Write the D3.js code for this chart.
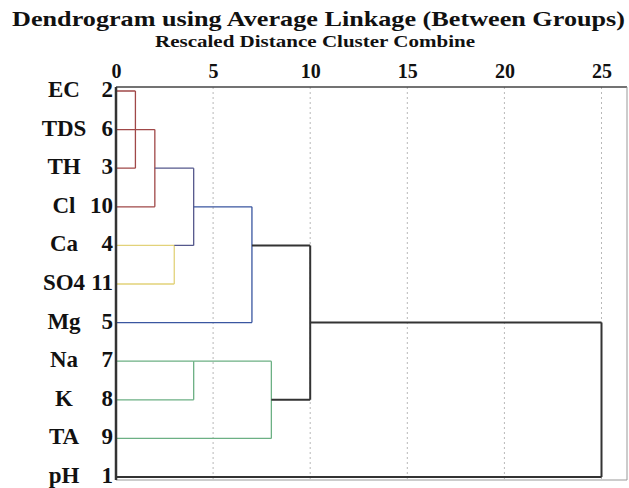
<!DOCTYPE html>
<html>
<head>
<meta charset="utf-8">
<script src="https://cdn.jsdelivr.net/npm/d3@7"></script>
<style>
  body { margin: 0; background: #fff; }
  text { font-family: "Liberation Serif", "Times New Roman", serif; font-weight: bold; fill: #111; }
</style>
</head>
<body>
<div id="chart"></div>
<script>
// variables listed top to bottom as in the dendrogram
var labels = ["EC", "TDS", "TH", "Cl", "Ca", "SO4", "Mg", "Na", "K", "TA", "pH"]
var caseNums = [2, 6, 3, 10, 4, 11, 5, 7, 8, 9, 1]

// merges: ids below 11 are leaves, 11+k is merge k
var mergeLeft = [0, 11, 12, 4, 13, 15, 7, 17, 16, 19]
var mergeRight = [2, 1, 3, 5, 14, 6, 8, 9, 18, 10]
var mergeDist = [1, 2, 2, 3, 4, 7, 4, 8, 10, 25]
var mergeRow = [1, 1, 2, 4, 3, 4, 7, 8, 6, 8]   // row the joined cluster hangs from
var mergeGroup = ["g1", "g1", "g1", "g2", "g3", "g4", "g5", "g5", "g6", "g6"]

var distTicks = [0, 5, 10, 15, 20, 25]

var width = 629, height = 488
var svg = d3.select("#chart").append("svg")
    .attr("width", width)
    .attr("height", height)

var x = d3.scaleLinear().domain([0, 25]).range([116, 601.5])
var y = d3.scaleLinear().domain([0, 10]).range([91, 477])
var color = d3.scaleOrdinal()
    .domain(["g1", "g2", "g3", "g4", "g5", "g6"])
    .range(["#a04848", "#e2d27a", "#55588c", "#3a56a0", "#6cb084", "#333333"])

var frameTop = 87, frameBottom = 480, frameRight = 627

// title
svg.append("text")
    .attr("x", 318.5).attr("y", 26)
    .attr("text-anchor", "middle")
    .attr("textLength", 613).attr("lengthAdjust", "spacingAndGlyphs")
    .style("font-size", "22px")
    .text("Dendrogram using Average Linkage (Between Groups)")

svg.append("text")
    .attr("x", 315).attr("y", 47)
    .attr("text-anchor", "middle")
    .attr("textLength", 320).attr("lengthAdjust", "spacingAndGlyphs")
    .style("font-size", "16px")
    .text("Rescaled Distance Cluster Combine")

// grid
svg.append("g").selectAll("line")
    .data(distTicks.filter(d => d > 0))
    .enter().append("line")
    .attr("x1", d => x(d)).attr("x2", d => x(d))
    .attr("y1", frameTop).attr("y2", frameBottom)
    .attr("stroke", "#b8b8b8")
    .attr("stroke-width", 1)
    .attr("stroke-dasharray", "2,3")

// frame
svg.append("line").attr("x1", x(0)).attr("x2", frameRight).attr("y1", frameTop).attr("y2", frameTop)
    .attr("stroke", "#444").attr("stroke-width", 1.5)
svg.append("line").attr("x1", frameRight).attr("x2", frameRight).attr("y1", frameTop).attr("y2", frameBottom)
    .attr("stroke", "#999").attr("stroke-width", 1)
svg.append("line").attr("x1", x(0)).attr("x2", frameRight).attr("y1", frameBottom).attr("y2", frameBottom)
    .attr("stroke", "#999").attr("stroke-width", 1)

// top axis
var axis = svg.append("g")
    .attr("transform", `translate(0,${frameTop - 9})`)
    .call(d3.axisTop(x).tickValues(distTicks).tickSize(0).tickPadding(0))
axis.select(".domain").remove()
axis.selectAll("text")
    .attr("fill", "#111")
    .style("font-family", "'Liberation Serif', serif")
    .style("font-weight", "bold")
    .style("font-size", "20px")
    .attr("dy", 0)

// node positions
var nodeX = [], nodeY = []
labels.forEach((d, i) => { nodeX[i] = 0; nodeY[i] = i })
mergeDist.forEach((d, k) => { nodeX[11 + k] = d; nodeY[11 + k] = mergeRow[k] })

var links = svg.append("g").attr("fill", "none")
mergeDist.forEach((d, k) => {
    var c = color(mergeGroup[k])
    var w = mergeGroup[k] == "g6" ? 2 : 1.3
    var a = mergeLeft[k], b = mergeRight[k]
    var path = d3.path()
    ;[a, b].forEach(n => {
        path.moveTo(x(nodeX[n]), y(nodeY[n]))
        path.lineTo(x(d), y(nodeY[n]))
    })
    path.moveTo(x(d), y(nodeY[a]))
    path.lineTo(x(d), y(nodeY[b]))
    links.append("path")
        .attr("d", path.toString())
        .attr("stroke", c)
        .attr("stroke-width", w)
})

// left axis line
svg.append("line").attr("x1", x(0)).attr("x2", x(0)).attr("y1", frameTop).attr("y2", frameBottom)
    .attr("stroke", "#333").attr("stroke-width", 2.5)

// row labels
var rows = svg.append("g")
rows.selectAll(".name")
    .data(labels)
    .enter().append("text")
    .attr("class", "name")
    .attr("x", 64)
    .attr("y", (d, i) => y(i) + 6)
    .attr("text-anchor", "middle")
    .style("font-size", "23px")
    .text(d => d)

rows.selectAll(".num")
    .data(caseNums)
    .enter().append("text")
    .attr("class", "num")
    .attr("x", 113)
    .attr("y", (d, i) => y(i) + 6)
    .attr("text-anchor", "end")
    .style("font-size", "23px")
    .text(d => d)
</script>
</body>
</html>
